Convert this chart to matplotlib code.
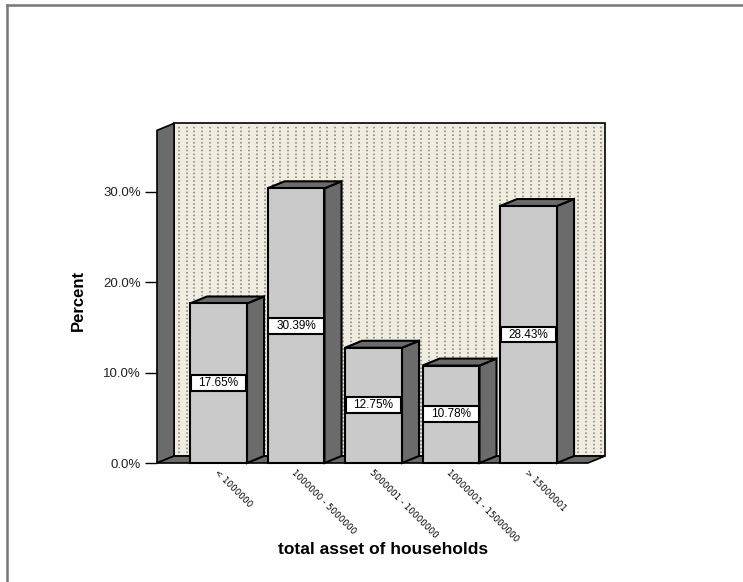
import numpy as np
import matplotlib.pyplot as plt
from matplotlib.patches import Polygon, Rectangle
from matplotlib.lines import Line2D

# asset classes and share of households
categories = ["< 1000000", "1000000 - 5000000", "5000001 - 10000000",
              "10000001 - 15000000", "> 15000001"]
percents = [17.65, 30.39, 12.75, 10.78, 28.43]
y_ticks = [0, 10, 20, 30]
y_tick_labels = ["0.0%", "10.0%", "20.0%", "30.0%"]

# colours
dark = "#6b6b6b"
bar_face = "#cacaca"
wall = "#f0ede0"
dots = "#7d7d74"

# depth of the fake 3d look (data units)
dx, dy = 0.22, 0.77
bar_w = 0.735
wall_top = 36.8

fig = plt.figure(figsize=(7.43, 5.82), dpi=100)
W, H = 743, 582
ax = fig.add_axes([157 / W, (H - 470) / H, (620 - 157) / W, (470 - 110) / H])
x0 = (157 - 218.5) / 77.5
xr = (605 - 218.5) / 77.5
ax.set_xlim(x0, (620 - 218.5) / 77.5)
ax.set_ylim(-0.774, 39.05)
for s in ax.spines.values():
    s.set_visible(False)
ax.set_xticks([])
ax.set_yticks(y_ticks)
ax.set_yticklabels(y_tick_labels, family="Liberation Sans", fontsize=9.5, color="#222222")
ax.tick_params(axis="y", length=8.6, width=1.0, pad=3)
ax.patch.set_alpha(0)

# back wall with dotted pattern
ax.add_patch(Rectangle((x0 + dx, dy), xr - x0 - dx, wall_top, facecolor=wall,
                       edgecolor="black", lw=1.2, zorder=1))
xs = np.arange(x0 + dx + 0.06, xr - 0.02, 0.101)
ax.vlines(xs, dy + 0.3, wall_top + dy - 0.3, colors=dots, lw=1.1,
          linestyles=(0, (1.0, 1.5)), zorder=2)

# left side wall and floor
ax.add_patch(Polygon([(x0, 0), (x0, wall_top), (x0 + dx, wall_top + dy), (x0 + dx, dy)],
                     closed=True, facecolor=dark, edgecolor="black", lw=1.2,
                     zorder=3, clip_on=False))
ax.add_patch(Polygon([(x0, 0), (xr - dx, 0), (xr, dy), (x0 + dx, dy)],
                     closed=True, facecolor=dark, edgecolor="black", lw=1.2,
                     zorder=3, clip_on=False))

# bars
for i, v in enumerate(percents):
    l, r = i - bar_w / 2, i + bar_w / 2
    z = 4 + i
    ax.add_patch(Polygon([(r, 0), (r + dx, dy), (r + dx, v + dy), (r, v)], closed=True,
                         facecolor=dark, edgecolor="black", lw=1.5, zorder=z))
    ax.add_patch(Polygon([(l, v), (l + dx, v + dy), (r + dx, v + dy), (r, v)], closed=True,
                         facecolor=dark, edgecolor="black", lw=1.5, zorder=z))
    ax.add_patch(Rectangle((l, 0), bar_w, v, facecolor=bar_face, edgecolor="black",
                           lw=1.5, zorder=z))
    # value label box
    ax.add_patch(Rectangle((i - 0.355, v / 2 - 0.88), 0.71, 1.76, facecolor="white",
                           edgecolor="black", lw=1.5, zorder=z + 0.5))
    ax.text(i, v / 2, f"{v:.2f}%", ha="center", va="center", fontsize=8.5,
            family="Liberation Sans", zorder=z + 0.6)
    # category label
    ax.text(i, -0.6, categories[i], rotation=-45, rotation_mode="anchor",
            ha="left", va="top", fontsize=6.3, family="DejaVu Sans", clip_on=False)

fig.text(78 / W, 1 - 300 / H, "Percent", rotation=90, ha="center", va="center",
         fontsize=12, fontweight="bold", family="Liberation Sans")
fig.text(383 / W, 1 - 550 / H, "total asset of households", ha="center", va="center",
         fontsize=12.5, fontweight="bold", family="Liberation Sans")

# outer frame (top and left only)
fig.add_artist(Line2D([7.5 / W, 1], [1 - 4.5 / H, 1 - 4.5 / H], color="#777777", lw=1.8))
fig.add_artist(Line2D([7.5 / W, 7.5 / W], [0, 1 - 4.5 / H], color="#777777", lw=1.8))

fig.savefig("out.png", dpi=100)
